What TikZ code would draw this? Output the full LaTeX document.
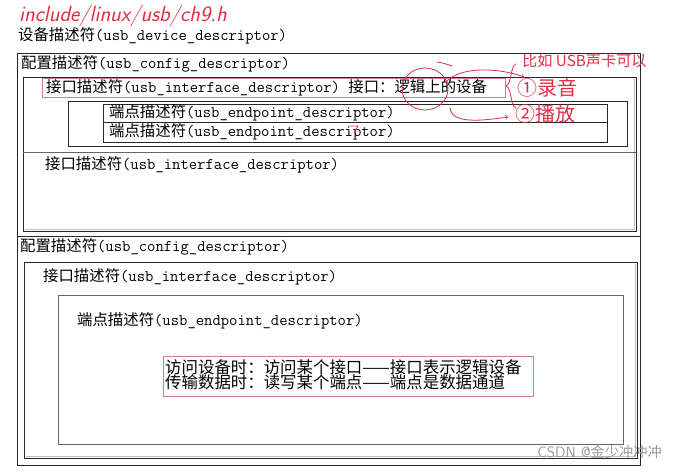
\documentclass[tikz,border=0pt]{standalone}
\usepackage{fontspec}
\newfontfamily\zhfont{Noto Sans CJK SC}[Scale=0.95]
\newcommand{\zh}[1]{{\zhfont #1}}
\definecolor{pen}{RGB}{225,45,70}
\definecolor{pinkline}{RGB}{205,125,155}

\begin{document}
\begin{tikzpicture}
  [x=1pt, y=-1pt,
   every node/.style={inner sep=0pt, anchor=west},
   lbl/.style={font=\ttfamily\fontsize{16.2}{17}\selectfont},
   twoline/.style={font=\zhfont\fontsize{17.3}{15.5}\selectfont, align=left},
   frame/.style={draw=black!85, line width=0.7pt},
   gframe/.style={draw=black!60, line width=0.7pt},
   pinkbox/.style={draw=pinkline, line width=0.7pt},
   pen/.style={draw=pen, line width=0.8pt, line cap=round},
   note/.style={text=pen, font=\zhfont\fontsize{#1}{#1}\selectfont}]
  \useasboundingbox (0,0) rectangle (674,474);

  % handwritten header
  \node[text=pen, font=\sffamily\itshape\fontsize{22}{22}\selectfont] (hdr) at (19,16) {include/linux/usb/ch9.h};
  \node[lbl] (dev) at (18,36) {\zh{设备描述符}(usb\_device\_descriptor)};

  % outer frame, split into two configurations
  \draw[frame] (17,53) rectangle (640,465);
  \draw[frame] (17,236) -- (640,236);

  % first configuration
  \node[lbl] (cfga) at (21,64) {\zh{配置描述符}(usb\_config\_descriptor)};
  \draw[frame] (23,77) rectangle (636,231);
  \draw[black!25] (25,229) -- (634,229) -- (634,79);
  \draw[gframe] (23,152) -- (636,152);
  \draw[pinkbox] (42,78) rectangle (505,97);
  \node[lbl] (ifa) at (46,88) {\zh{接口描述符}(usb\_interface\_descriptor) \zh{接口：逻辑上的设备}};
  \draw[frame] (68,101) rectangle (627,146);
  \draw[frame] (103,104) rectangle (607,122);
  \draw[frame] (103,122) rectangle (607,142);
  \node[lbl] (epa) at (109,113) {\zh{端点描述符}(usb\_endpoint\_descriptor)};
  \node[lbl] (epb) at (109,132) {\zh{端点描述符}(usb\_endpoint\_descriptor)};
  \node[lbl] (ifb) at (45,165) {\zh{接口描述符}(usb\_interface\_descriptor)};

  % second configuration
  \node[lbl] (cfgb) at (20,247) {\zh{配置描述符}(usb\_config\_descriptor)};
  \draw[frame] (24,262) rectangle (637,458);
  \draw[black!25] (26,456) -- (635,456) -- (635,264);
  \node[lbl] (ifc) at (43,277) {\zh{接口描述符}(usb\_interface\_descriptor)};
  \draw[gframe] (58,295) rectangle (623,444);
  \node[lbl] (epc) at (77,321) {\zh{端点描述符}(usb\_endpoint\_descriptor)};
  \draw[pinkbox] (163,356) rectangle (533,396);
  \node[twoline] (memo) at (165,375) {访问设备时：访问某个接口——接口表示逻辑设备\\传输数据时：读写某个端点——端点是数据通道};

  % red pen notes
  \draw[pen] (425,89) ellipse (23 and 21);
  \draw[pen] (437,62) .. controls (443,63) .. (452,66);
  \draw[pen, ->] (447,81) .. controls (462,66) and (500,68) .. (524,77);
  \draw[pen, ->] (450,108) .. controls (452,124) and (480,121) .. (508,117);
  \draw[pen] (516,64) .. controls (510,66) and (512,84) .. (506,86)
             .. controls (512,88) and (510,106) .. (516,108);
  \draw[pen] (350,126) -- (358,126) -- (354,133);
  \node[note=16] (eg) at (522,61) {比如 USB声卡可以};
  \node[note=21] (rec) at (517,88) {①录音};
  \node[note=21] (play) at (515,114) {②播放};

  % watermark
  \node[anchor=east, text=black!40, font=\sffamily\fontsize{15}{15}\selectfont] (mark) at (662,452) {CSDN @\zh{金少冲冲冲}};
\end{tikzpicture}
\end{document}
